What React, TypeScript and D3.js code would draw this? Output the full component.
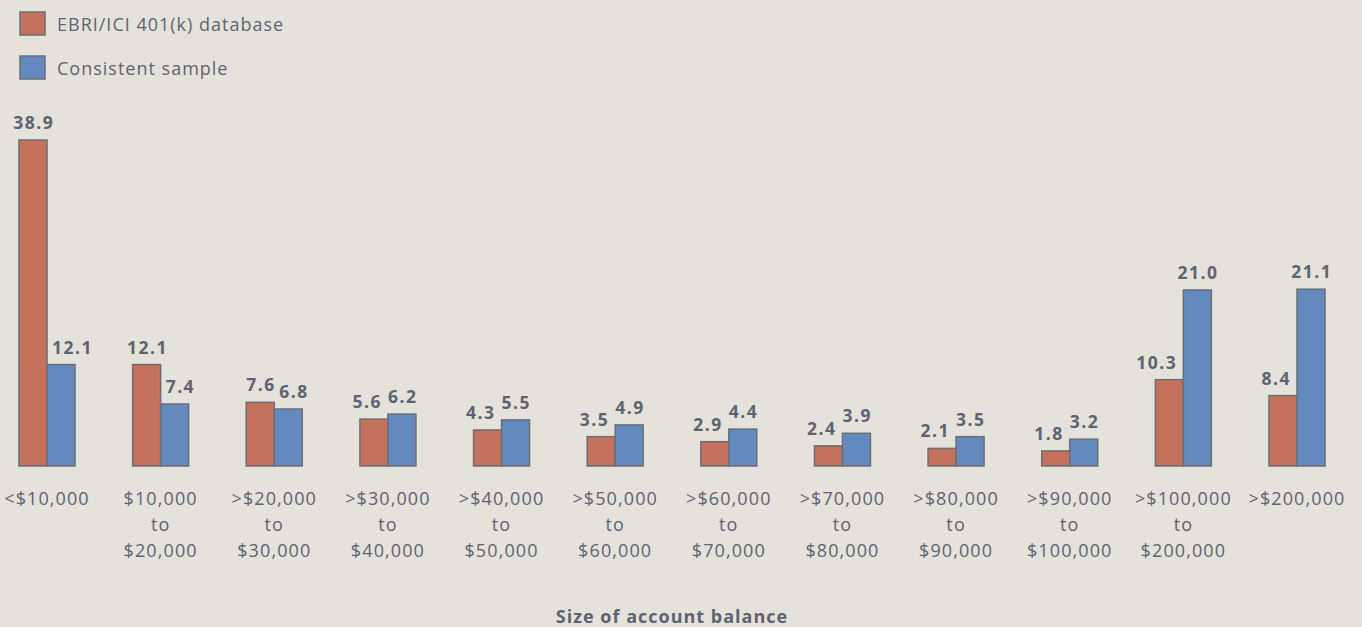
import React, { useEffect, useRef } from "react";
import * as d3 from "d3";

const categories = ["<$10,000", "$10,000 to $20,000", ">$20,000 to $30,000", ">$30,000 to $40,000", ">$40,000 to $50,000", ">$50,000 to $60,000", ">$60,000 to $70,000", ">$70,000 to $80,000", ">$80,000 to $90,000", ">$90,000 to $100,000", ">$100,000 to $200,000", ">$200,000"];
const categoryLines = [["<$10,000"], ["$10,000", "to", "$20,000"], [">$20,000", "to", "$30,000"], [">$30,000", "to", "$40,000"], [">$40,000", "to", "$50,000"], [">$50,000", "to", "$60,000"], [">$60,000", "to", "$70,000"], [">$70,000", "to", "$80,000"], [">$80,000", "to", "$90,000"], [">$90,000", "to", "$100,000"], [">$100,000", "to", "$200,000"], [">$200,000"]];
const ebri = [38.9, 12.1, 7.6, 5.6, 4.3, 3.5, 2.9, 2.4, 2.1, 1.8, 10.3, 8.4];
const consistent = [12.1, 7.4, 6.8, 6.2, 5.5, 4.9, 4.4, 3.9, 3.5, 3.2, 21.0, 21.1];
const seriesNames = ["EBRI/ICI 401(k) database", "Consistent sample"];
const seriesColors = ["#c4725d", "#6389bf"];
const xTitle = "Size of account balance";

const W = 1362, H = 627;
const FONT = "'Open Sans', sans-serif";
const TEXT = "#5d6470";

export default function App() {
  const ref = useRef<SVGSVGElement>(null);
  useEffect(() => {
    document.body.style.margin = "0";
    const svg = d3.select(ref.current);
    svg.selectAll("*").remove();
    svg.append("rect").attr("width", W).attr("height", H).attr("fill", "#e4e2db");

    const step = 1250 / 11;
    const x = d3.scaleBand<string>().domain(categories).range([47 - step / 2, 1297 + step / 2]).padding(0);
    const y = d3.scaleLinear().domain([0, 40]).range([466, 466 - 326 * 40 / 38.9]);
    const bw = 28;
    const series = [ebri, consistent];
    const center = (i: number) => x(categories[i])! + x.bandwidth() / 2;

    series.forEach((vals, si) => {
      const other = series[1 - si];
      const g = svg.append("g");
      g.selectAll("rect").data(vals).join("rect")
        .attr("x", (_d, i) => center(i) - bw + si * bw)
        .attr("y", d => y(d))
        .attr("width", bw)
        .attr("height", d => y(0) - y(d))
        .attr("fill", seriesColors[si])
        .attr("stroke", "#6b6f73")
        .attr("stroke-width", 1.5);
      g.selectAll("text").data(vals).join("text")
        .each(function (d, i) {
          const blocked = y(other[i]) < y(d) - 4;
          const t = d3.select(this);
          if (!blocked) {
            t.attr("x", center(i) - bw / 2 + si * bw + 0.75).attr("text-anchor", "middle");
          } else if (si === 0) {
            t.attr("x", center(i) - 6).attr("text-anchor", "end");
          } else {
            t.attr("x", center(i) + 5).attr("text-anchor", "start");
          }
        })
        .attr("y", d => y(d) - 11)
        .attr("font-family", FONT)
        .attr("font-weight", "bold")
        .attr("font-size", 17.5)
        .attr("letter-spacing", 1.5)
        .attr("fill", TEXT)
        .text(d => d.toFixed(1));
    });

    const xl = svg.append("g");
    categories.forEach((c, i) => {
      const t = xl.append("text")
        .attr("x", center(i))
        .attr("y", 505)
        .attr("text-anchor", "middle")
        .attr("font-family", FONT)
        .attr("font-size", 18)
        .attr("letter-spacing", 1.1)
        .attr("fill", TEXT);
      categoryLines[i].forEach((ln, li) => {
        t.append("tspan").attr("x", center(i)).attr("dy", li === 0 ? 0 : 26).text(ln);
      });
    });

    svg.append("text").attr("x", 672).attr("y", 623).attr("text-anchor", "middle")
      .attr("font-family", FONT).attr("font-weight", "bold").attr("font-size", 18)
      .attr("letter-spacing", 1).attr("fill", TEXT).text(xTitle);

    seriesNames.forEach((n, i) => {
      svg.append("rect").attr("x", 20).attr("y", 12 + i * 44).attr("width", 25).attr("height", 23)
        .attr("fill", seriesColors[i]).attr("stroke", "#6b6f73").attr("stroke-width", 1.5);
      svg.append("text").attr("x", 57).attr("y", 31 + i * 44).attr("font-family", FONT).attr("font-size", 18)
        .attr("letter-spacing", 1).attr("fill", TEXT).text(n);
    });
  }, []);
  return <svg ref={ref} width={W} height={H} style={{ display: "block" }} />;
}
